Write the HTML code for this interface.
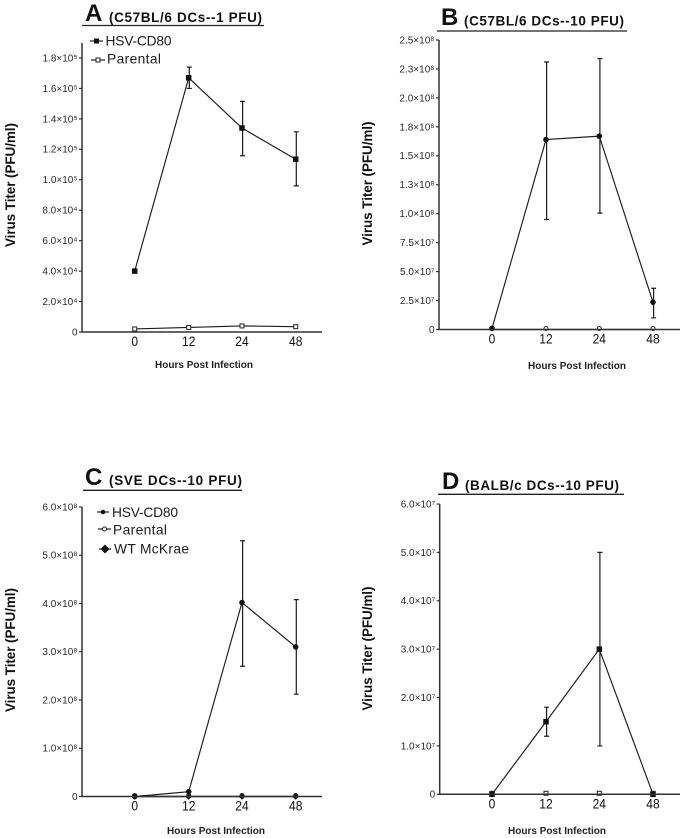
<!DOCTYPE html>
<html>
<head>
<meta charset="utf-8">
<style>
html,body{margin:0;padding:0;background:#fff;}
svg{display:block;font-family:"Liberation Sans",sans-serif;filter:blur(0.3px);}
</style>
</head>
<body>
<svg id="fig" width="684" height="838" viewBox="0 0 684 838" xmlns="http://www.w3.org/2000/svg">
  <g fill="#111" font-weight="bold">
    <text x="85" y="21" font-size="24">A</text>
    <text x="109" y="22" font-size="13.5" textLength="153">(C57BL/6 DCs--1 PFU)</text>
    <line x1="82" x2="264" y1="25.5" y2="25.5" stroke="#222" stroke-width="1.3"/>
  </g>
  <g fill="#111" font-weight="bold">
    <text x="441" y="25" font-size="24">B</text>
    <text x="464" y="25.5" font-size="13.5" textLength="160">(C57BL/6 DCs--10 PFU)</text>
    <line x1="437" x2="627" y1="31" y2="31" stroke="#222" stroke-width="1.3"/>
  </g>
  <g fill="#111" font-weight="bold">
    <text x="85" y="485" font-size="24">C</text>
    <text x="109" y="485" font-size="13.5" textLength="133">(SVE DCs--10 PFU)</text>
    <line x1="83" x2="242" y1="490.3" y2="490.3" stroke="#222" stroke-width="1.3"/>
  </g>
  <g fill="#111" font-weight="bold">
    <text x="442" y="489" font-size="24">D</text>
    <text x="465" y="490" font-size="13.5" textLength="154">(BALB/c DCs--10 PFU)</text>
    <line x1="438" x2="624" y1="494.3" y2="494.3" stroke="#222" stroke-width="1.3"/>
  </g>

  <g fill="#1c1c1c" font-size="13.8">
    <g>
      <line x1="90" x2="103" y1="41" y2="41" stroke="#222" stroke-width="1.2"/>
      <rect x="94" y="38.5" width="5" height="5" fill="#111"/>
      <text x="105.5" y="45.7" textLength="66">HSV-CD80</text>
    </g>
    <g>
      <line x1="91" x2="105" y1="60" y2="60" stroke="#222" stroke-width="1.2"/>
      <rect x="96" y="58" width="4" height="4" fill="#fff" stroke="#222"/>
      <text x="107" y="63.5" textLength="54">Parental</text>
    </g>
  </g>
  <g fill="#1c1c1c" font-size="13.8">
    <g>
      <line x1="97" x2="109" y1="512" y2="512" stroke="#222" stroke-width="1.2"/>
      <circle cx="103" cy="512" r="2.3" fill="#111"/>
      <text x="112" y="517" textLength="66">HSV-CD80</text>
    </g>
    <g>
      <line x1="98" x2="111" y1="529" y2="529" stroke="#222" stroke-width="1.2"/>
      <circle cx="104.5" cy="529" r="2" fill="#fff" stroke="#222"/>
      <text x="113" y="534.5" textLength="54">Parental</text>
    </g>
    <g>
      <line x1="99" x2="111" y1="549" y2="549" stroke="#222" stroke-width="1.2"/>
      <polygon points="105,544.5 109.5,549 105,553.5 100.5,549" fill="#111"/>
      <text x="114" y="553.5" textLength="75">WT McKrae</text>
    </g>
  </g>
  <g id="plots"></g>
</svg>
<script>
var hours = ["0", "12", "24", "48"];

var aTicks = [0, 2e4, 4e4, 6e4, 8e4, 1e5, 1.2e5, 1.4e5, 1.6e5, 1.8e5];
var aTickLabels = ["0", "2.0×10⁴", "4.0×10⁴", "6.0×10⁴", "8.0×10⁴", "1.0×10⁵", "1.2×10⁵", "1.4×10⁵", "1.6×10⁵", "1.8×10⁵"];
var aHsv = [4e4, 1.67e5, 1.34e5, 1.135e5];
var aHsvUpper = [4e4, 1.74e5, 1.515e5, 1.315e5];
var aHsvLower = [4e4, 1.6e5, 1.158e5, 0.96e5];
var aParental = [2000, 3000, 4000, 3500];

var bTicks = [0, 2.5e7, 5e7, 7.5e7, 1e8, 1.25e8, 1.5e8, 1.75e8, 2e8, 2.25e8, 2.5e8];
var bTickLabels = ["0", "2.5×10⁷", "5.0×10⁷", "7.5×10⁷", "1.0×10⁸", "1.3×10⁸", "1.5×10⁸", "1.8×10⁸", "2.0×10⁸", "2.3×10⁸", "2.5×10⁸"];
var bHsv = [1e6, 1.64e8, 1.67e8, 2.36e7];
var bHsvUpper = [1e6, 2.31e8, 2.34e8, 3.56e7];
var bHsvLower = [1e6, 0.95e8, 1.005e8, 1.0e7];
var bParental = [0, 0, 0, 0];

var cTicks = [0, 1e8, 2e8, 3e8, 4e8, 5e8, 6e8];
var cTickLabels = ["0", "1.0×10⁸", "2.0×10⁸", "3.0×10⁸", "4.0×10⁸", "5.0×10⁸", "6.0×10⁸"];
var cHsv = [0, 1e7, 4.02e8, 3.1e8];
var cHsvUpper = [0, 1e7, 5.3e8, 4.08e8];
var cHsvLower = [0, 1e7, 2.7e8, 2.12e8];
var cParental = [0, 0, 0, 0];
var cWild = [0, 0, 0, 0];

var dTicks = [0, 1e7, 2e7, 3e7, 4e7, 5e7, 6e7];
var dTickLabels = ["0", "1.0×10⁷", "2.0×10⁷", "3.0×10⁷", "4.0×10⁷", "5.0×10⁷", "6.0×10⁷"];
var dHsv = [0, 1.5e7, 3e7, 0];
var dHsvUpper = [0, 1.8e7, 5e7, 0];
var dHsvLower = [0, 1.2e7, 1e7, 0];
var dParental = [0, 0, 0, 0];

var NS = "http://www.w3.org/2000/svg";

function make(parent, tag, attrs) {
  var el = document.createElementNS(NS, tag);
  for (var k in attrs) el.setAttribute(k, attrs[k]);
  parent.appendChild(el);
  return el;
}

function drawMarker(g, kind, x, y, filled) {
  var fill = filled ? "#111" : "#fff";
  var stroke = filled ? "none" : "#222";
  var el;
  if (kind === "square") {
    var s = filled ? 5.5 : 4;
    el = make(g, "rect", {x: x - s / 2, y: y - s / 2, width: s, height: s, fill: fill, stroke: stroke});
  } else if (kind === "circle") {
    el = make(g, "circle", {cx: x, cy: y, r: filled ? 2.8 : 2, fill: fill, stroke: stroke});
  } else {
    el = make(g, "polygon", {points: [x, y - 3.2, x + 3.6, y, x, y + 3.2, x - 3.6, y].join(","), fill: fill});
  }
  
  
}

function drawLine(g, vals, xf, yf, name) {
  var pts = vals.map(function (v, i) { return xf(i) + "," + yf(v); }).join(" ");
  var el = make(g, "polyline", {points: pts, fill: "none", stroke: "#1c1c1c", "stroke-width": 1.15});
  
  
}

function drawPanel(p) {
  var root = document.getElementById("plots");
  var g = make(root, "g", {});
  
  

  var maxTick = p.ticks[p.ticks.length - 1];
  function yf(v) { return p.y0 - (v / maxTick) * (p.y0 - p.yMaxTick); }
  function xf(i) { return p.xs[i]; }

  // y-axis title
  var yt = make(g, "text", {
    transform: "translate(" + p.yTitleX + "," + p.yTitleY + ") rotate(-90)",
    "text-anchor": "middle", "font-size": 13.5, "font-weight": "bold", fill: "#111", textLength: 124
  });
  yt.textContent = "Virus Titer (PFU/ml)";
  
  

  // x-axis title
  var xt = make(g, "text", {
    x: p.xTitleX, y: p.xTitleY, "font-size": 10, "font-weight": "bold", fill: "#222", textLength: 98
  });
  xt.textContent = "Hours Post Infection";
  
  

  // y ticks and labels
  p.ticks.forEach(function (t, i) {
    var y = yf(t);
    var tick = make(g, "line", {x1: p.axisX - 3, x2: p.axisX, y1: y, y2: y, stroke: "#333", "stroke-width": 1.2});
    
    
    var lab = make(g, "text", {
      x: p.axisX - 4.5, y: y + 3.4, "text-anchor": "end", "font-size": 10, fill: "#2a2a2a"
    });
    lab.textContent = p.tickLabels[i];
    
    
  });

  // x labels
  hours.forEach(function (h, i) {
    var lab = make(g, "text", {
      x: xf(i), y: p.y0 + 14, "text-anchor": "middle", "font-size": 14, fill: "#111",
      textLength: h.length * 6.7, lengthAdjust: "spacingAndGlyphs"
    });
    lab.textContent = h;
    
    
  });

  // series lines
  if (p.wild) drawLine(g, p.wild, xf, yf, "wt-mckrae-line");
  drawLine(g, p.parental, xf, yf, "parental-line");
  drawLine(g, p.hsv, xf, yf, "hsv-cd80-line");

  // error bars
  p.hsv.forEach(function (v, i) {
    if (p.upper[i] === p.lower[i]) return;
    var x = xf(i) + 0.6;
    var bar = make(g, "path", {
      d: "M" + x + " " + yf(p.upper[i]) + "V" + yf(p.lower[i]) +
         "M" + (x - 2.5) + " " + yf(p.upper[i]) + "H" + (x + 2.5) +
         "M" + (x - 2.5) + " " + yf(p.lower[i]) + "H" + (x + 2.5),
      fill: "none", stroke: "#1c1c1c", "stroke-width": 1.2
    });
    
    
  });

  // markers
  p.parental.forEach(function (v, i) { drawMarker(g, p.marker, xf(i), yf(v) - (v === 0 ? 1 : 0), false); });
  p.hsv.forEach(function (v, i) { drawMarker(g, p.marker, xf(i), yf(v), true); });
  if (p.wild) p.wild.forEach(function (v, i) { drawMarker(g, "diamond", xf(i), yf(v), true); });

  // axes
  var ax = make(g, "path", {
    d: "M" + p.axisX + " " + p.yTop + "V" + p.y0 + "H" + p.xEnd,
    fill: "none", stroke: "#333", "stroke-width": 1.5
  });
  
  
}

drawPanel({name: "panel-a-chart", ticks: aTicks, tickLabels: aTickLabels, hsv: aHsv, upper: aHsvUpper, lower: aHsvLower, parental: aParental, marker: "square",
  axisX: 82, yTop: 43, y0: 332, yMaxTick: 58, xEnd: 322, xs: [134.7, 188.7, 242, 295.7], yTitleX: 15, yTitleY: 185, xTitleX: 155, xTitleY: 368});
drawPanel({name: "panel-b-chart", ticks: bTicks, tickLabels: bTickLabels, hsv: bHsv, upper: bHsvUpper, lower: bHsvLower, parental: bParental, marker: "circle",
  axisX: 439, yTop: 40, y0: 329.5, yMaxTick: 40, xEnd: 680, xs: [492, 546, 599.3, 653], yTitleX: 372, yTitleY: 183.5, xTitleX: 528, xTitleY: 369});
drawPanel({name: "panel-c-chart", ticks: cTicks, tickLabels: cTickLabels, hsv: cHsv, upper: cHsvUpper, lower: cHsvLower, parental: cParental, wild: cWild, marker: "circle",
  axisX: 82, yTop: 507, y0: 796.5, yMaxTick: 507, xEnd: 322, xs: [134.7, 188.7, 242, 295.7], yTitleX: 15, yTitleY: 650, xTitleX: 167, xTitleY: 834});
drawPanel({name: "panel-d-chart", ticks: dTicks, tickLabels: dTickLabels, hsv: dHsv, upper: dHsvUpper, lower: dHsvLower, parental: dParental, marker: "square",
  axisX: 439.7, yTop: 504, y0: 794.3, yMaxTick: 504, xEnd: 680, xs: [492, 546, 599.3, 653], yTitleX: 372, yTitleY: 648.5, xTitleX: 508, xTitleY: 834});
</script>
</body>
</html>
